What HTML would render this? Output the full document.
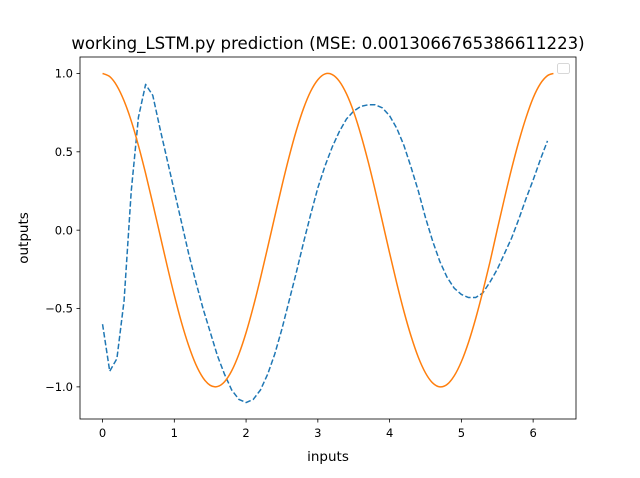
<!DOCTYPE html>
<html><head><meta charset="utf-8"><style>
body{margin:0;background:#fff;}
svg text{font-family:"DejaVu Sans","Liberation Sans",sans-serif;fill:#000;}
</style></head><body>
<svg id="chart" width="640" height="473" xmlns="http://www.w3.org/2000/svg">
<rect width="640" height="473" fill="#fff"/>
<g id="plot"></g>
</svg>
<script>
const orangeX=[0,0.1,0.2,0.3,0.4,0.5,0.6,0.7,0.8,0.9,1.0,1.1,1.2,1.3,1.4,1.5,1.6,1.7,1.8,1.9,2.0,2.1,2.2,2.3,2.4,2.5,2.6,2.7,2.8,2.9,3.0,3.1,3.2,3.3,3.4,3.5,3.6,3.7,3.8,3.9,4.0,4.1,4.2,4.3,4.4,4.5,4.6,4.7,4.8,4.9,5.0,5.1,5.2,5.3,5.4,5.5,5.6,5.7,5.8,5.9,6.0,6.1,6.2,6.283];
const orangeY=[1,0.98,0.921,0.825,0.697,0.54,0.362,0.17,-0.029,-0.227,-0.416,-0.589,-0.737,-0.857,-0.942,-0.99,-0.998,-0.967,-0.897,-0.791,-0.654,-0.49,-0.307,-0.112,0.087,0.284,0.469,0.635,0.776,0.886,0.96,0.997,0.993,0.95,0.869,0.754,0.608,0.439,0.252,0.054,-0.146,-0.339,-0.519,-0.678,-0.811,-0.911,-0.975,-1.0,-0.985,-0.93,-0.839,-0.715,-0.563,-0.389,-0.2,0.004,0.202,0.392,0.565,0.717,0.844,0.934,0.986,1];
const blueX=[0,0.1,0.2,0.3,0.4,0.5,0.6,0.7,0.8,0.9,1.0,1.1,1.2,1.3,1.4,1.5,1.6,1.7,1.8,1.9,2.0,2.1,2.2,2.3,2.4,2.5,2.6,2.7,2.8,2.9,3.0,3.1,3.2,3.3,3.4,3.5,3.6,3.7,3.8,3.9,4.0,4.1,4.2,4.3,4.4,4.5,4.6,4.7,4.8,4.9,5.0,5.1,5.2,5.3,5.4,5.5,5.6,5.7,5.8,5.9,6.0,6.1,6.2];
const blueY=[-0.6,-0.9,-0.82,-0.45,0.25,0.72,0.93,0.86,0.65,0.45,0.25,0.05,-0.15,-0.33,-0.5,-0.65,-0.8,-0.92,-1.02,-1.08,-1.1,-1.08,-1.02,-0.92,-0.79,-0.63,-0.45,-0.27,-0.08,0.1,0.27,0.41,0.53,0.63,0.71,0.76,0.79,0.8,0.8,0.78,0.73,0.65,0.54,0.4,0.25,0.08,-0.07,-0.2,-0.3,-0.37,-0.41,-0.43,-0.43,-0.4,-0.33,-0.25,-0.15,-0.05,0.07,0.2,0.32,0.45,0.57];
const xTicks=[0,1,2,3,4,5,6];
const yTicks=[-1.0,-0.5,0.0,0.5,1.0];
const yTickLabels=["\u22121.0","\u22120.5","0.0","0.5","1.0"];

const L=80,R=576,T=57,B=419;
const xMin=-0.3142,xMax=6.5973,yMin=-1.205,yMax=1.105;
const sx=v=>L+(v-xMin)/(xMax-xMin)*(R-L);
const sy=v=>B-(v-yMin)/(yMax-yMin)*(B-T);
const NS="http://www.w3.org/2000/svg";
const g=document.getElementById('plot');
function mk(t,a,txt){const e=document.createElementNS(NS,t);for(const k in a)e.setAttribute(k,a[k]);if(txt!==undefined)e.textContent=txt;g.appendChild(e);return e;}
function smooth(xs,ys){
  const p=xs.map((x,i)=>[sx(x),sy(ys[i])]);
  let d='M'+p[0][0].toFixed(2)+' '+p[0][1].toFixed(2);
  for(let i=0;i<p.length-1;i++){
    const p0=p[i-1]||p[i],p1=p[i],p2=p[i+1],p3=p[i+2]||p[i+1];
    const c1=[p1[0]+(p2[0]-p0[0])/6,p1[1]+(p2[1]-p0[1])/6];
    const c2=[p2[0]-(p3[0]-p1[0])/6,p2[1]-(p3[1]-p1[1])/6];
    d+='C'+c1.map(v=>v.toFixed(2)).join(' ')+' '+c2.map(v=>v.toFixed(2)).join(' ')+' '+p2.map(v=>v.toFixed(2)).join(' ');
  }
  return d;
}

const blue=mk('path',{d:blueX.map((x,i)=>(i?'L':'M')+sx(x).toFixed(2)+' '+sy(blueY[i]).toFixed(2)).join(''),fill:'none',stroke:'#1f77b4','stroke-width':1.5,'stroke-dasharray':'5.55,2.4','stroke-linejoin':'round'});


const orange=mk('path',{d:smooth(orangeX,orangeY),fill:'none',stroke:'#ff7f0e','stroke-width':1.5});



const frame=mk('rect',{x:L,y:T,width:R-L,height:B-T,fill:'none',stroke:'#000','stroke-width':0.8});



xTicks.forEach(v=>{
  const x=sx(v);
  mk('line',{x1:x,x2:x,y1:B,y2:B+3.5,stroke:'#000','stroke-width':0.8});
  const t=mk('text',{x:x,y:B+18,'font-size':11.5,'text-anchor':'middle'},String(v));
  
  
});
yTicks.forEach((v,i)=>{
  const y=sy(v);
  mk('line',{x1:L-3.5,x2:L,y1:y,y2:y,stroke:'#000','stroke-width':0.8});
  const t=mk('text',{x:L-7,y:y+4.2,'font-size':11.5,'text-anchor':'end'},yTickLabels[i]);
  
  
});

const title=mk('text',{x:(L+R)/2,y:49,'font-size':16.6,'text-anchor':'middle'},'working_LSTM.py prediction (MSE: 0.0013066765386611223)');


const xl=mk('text',{x:(L+R)/2,y:461,'font-size':13.5,'text-anchor':'middle'},'inputs');


const yl=mk('text',{x:0,y:0,'font-size':13.5,'text-anchor':'middle',transform:'translate(28,'+((T+B)/2)+') rotate(-90)'},'outputs');


const leg=mk('rect',{x:557.5,y:63.5,width:12,height:10,rx:2,fill:'#fff',stroke:'#ccc','stroke-width':0.8});


</script>
</body></html>
